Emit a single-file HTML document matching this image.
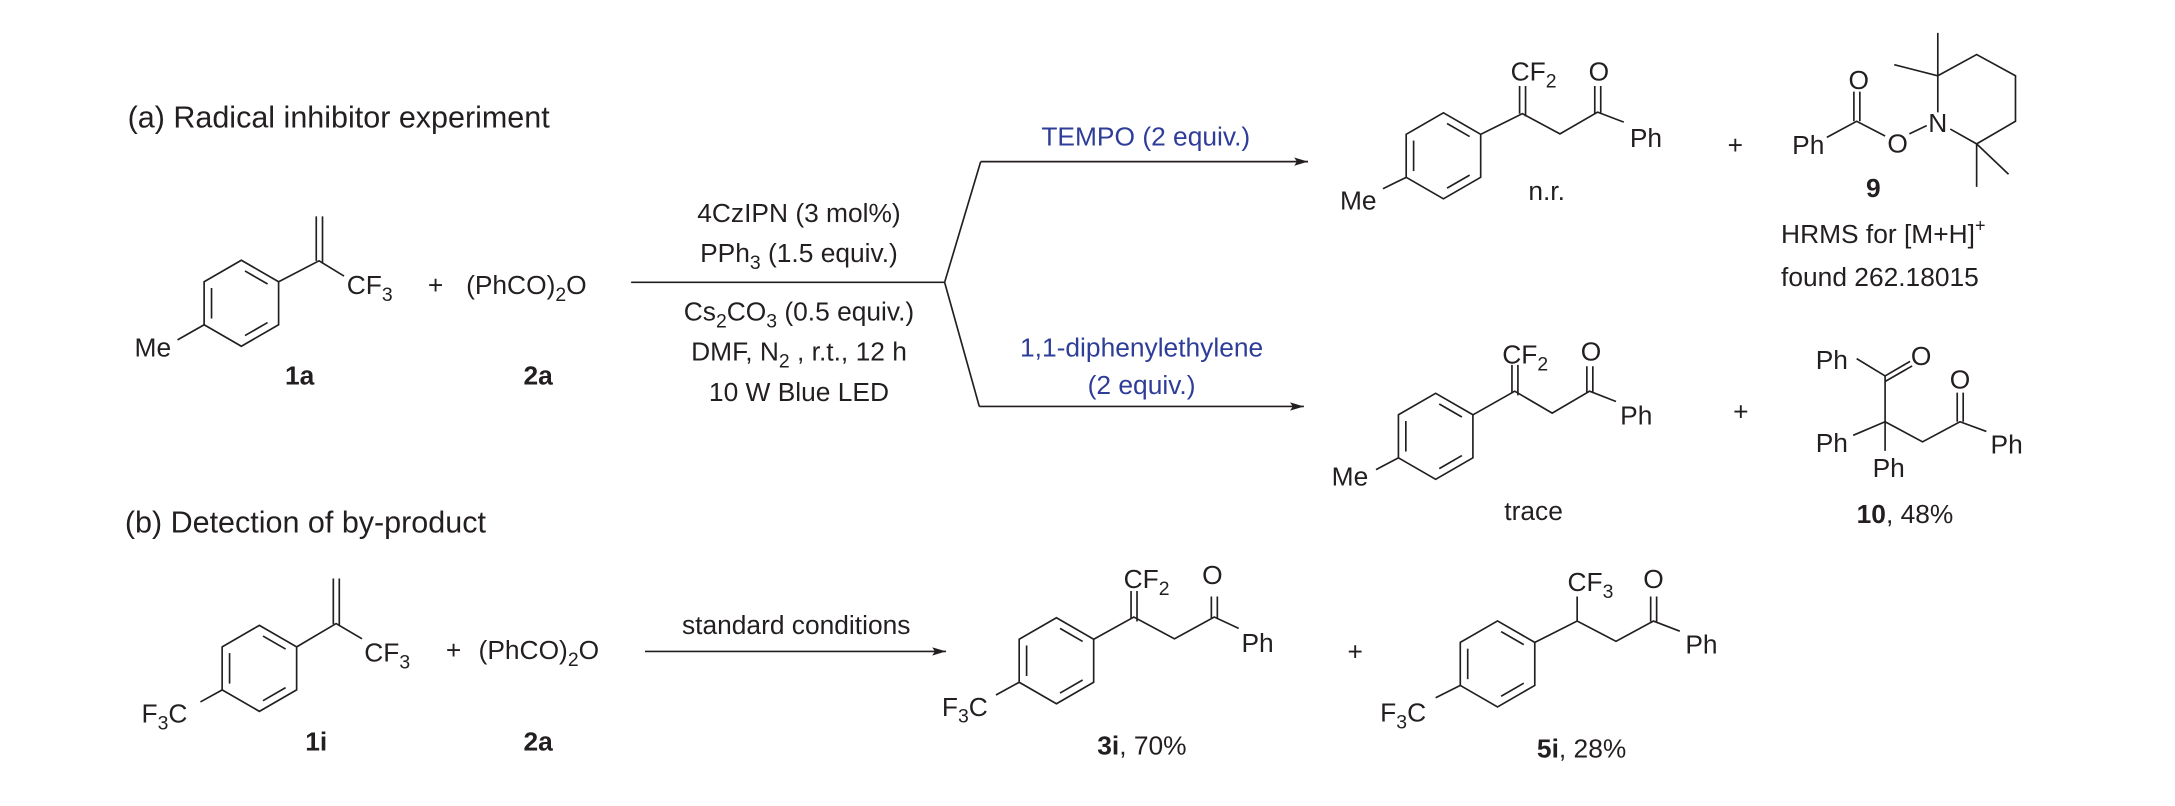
<!DOCTYPE html>
<html><head><meta charset="utf-8"><style>
html,body{margin:0;padding:0;background:#fff;}
svg{display:block;}
text{font-family:"Liberation Sans",Arial,sans-serif;font-size:19px;fill:#231f20;}
.b{font-weight:bold;}
.bl{fill:#2e3d98;}
.h{font-size:22px;}
</style></head><body>
<svg width="2175" height="806" viewBox="0 0 1568 581" xmlns="http://www.w3.org/2000/svg">
<defs>
<g id="ring" fill="none" stroke="#231f20" stroke-width="1.2">
<polygon points="0,-31 26.85,-15.5 26.85,15.5 0,31 -26.85,15.5 -26.85,-15.5"/>
<line x1="-21.5" y1="-11" x2="-21.5" y2="11"/>
<line x1="2.6" y1="-23.3" x2="18.9" y2="-13.9"/>
<line x1="18.9" y1="13.9" x2="2.6" y2="23.3"/>
</g>
<marker id="ah" viewBox="0 0 10 6" refX="10" refY="3" markerWidth="10" markerHeight="6" markerUnits="userSpaceOnUse" orient="auto">
<path d="M0,0 L10,3 L0,6 L2,3 Z" fill="#231f20"/>
</marker>
</defs>

<g stroke="#231f20" stroke-width="1.2" fill="none">
<use href="#ring" x="174" y="218.6"/>
<path d="M200.9,203.1 L230,188 L248,199"/>
<path d="M228,188 V156 M232.5,190 V156"/>
<path d="M147.2,234.1 L128,245"/>
<path d="M455,203.5 H681 M707,116.5 L681,203.5 L706,293"/>
<path d="M707,116.5 H943" marker-end="url(#ah)"/>
<path d="M706,293 H940" marker-end="url(#ah)"/>

<use href="#ring" x="1040.6" y="112.3"/>
<path d="M1067.5,96.8 L1097.5,81.9 L1124.6,96.5 L1151.7,80.8 L1170.6,88"/>
<path d="M1095.5,82 V62 M1099.8,84 V62"/>
<path d="M1149.7,82 V62 M1154,82 V62"/>
<path d="M1013.8,127.8 L997,136"/>
<path d="M1317,99 L1338.5,87.4 L1359,98"/>
<path d="M1336.5,87.4 V66 M1340.8,87.4 V66"/>
<path d="M1376.5,96.5 L1389,90.5"/>
<path d="M1397,81 V54.6 L1425,39.3 L1453,54.6 V87.4 L1425,103.7 L1406,93"/>
<path d="M1397,54.6 V23.7 M1397,54.6 L1365.6,46.6 M1425,103.7 V134.7 M1425,103.7 L1448,125.6"/>

<use href="#ring" x="1035" y="314.5"/>
<path d="M1061.9,299 L1092,282 L1119,297.8 L1146,282 L1165,289.4"/>
<path d="M1090,283 V263 M1094.3,285 V263"/>
<path d="M1144,283 V264 M1148.3,283 V264"/>
<path d="M1008.2,330 L992,338.5"/>
<path d="M1338.5,258.5 L1359,271 L1377,260.5 M1359,275 L1378.5,263.8"/>
<path d="M1359,271 V304 M1336,313.8 L1359,304 L1359,325 M1359,304 L1386,318.5 L1413,304 L1432,311"/>
<path d="M1411,304 V283 M1415.3,304 V283"/>

<use href="#ring" x="187" y="481.8"/>
<path d="M213.9,466.3 L242.3,449.5 L261,460.5"/>
<path d="M240.3,450 V417 M244.6,451 V417"/>
<path d="M160.2,497.3 L144.5,506"/>
<path d="M465,469.6 H682" marker-end="url(#ah)"/>

<use href="#ring" x="761.6" y="476.3"/>
<path d="M788.5,460.8 L817.4,444.8 L846.7,460.5 L875.4,444.8 L893,453"/>
<path d="M815.4,446 V426 M819.7,448 V426"/>
<path d="M873.3,446 V430 M877.6,446 V430"/>
<path d="M734.8,491.8 L718,501"/>

<use href="#ring" x="1079.6" y="478.6"/>
<path d="M1106.5,463.1 L1137,447.7 L1165,462.3 L1192,447.7 L1211,455"/>
<path d="M1137,447.7 V430"/>
<path d="M1190,448 V430 M1194.3,448 V430"/>
<path d="M1052.8,494.1 L1035,503"/>
</g>

<text x="92" y="92" class="h">(a) Radical inhibitor experiment</text>
<text x="250" y="212">CF<tspan font-size="14" dy="5">3</tspan></text>
<text x="97" y="257">Me</text>
<text x="216" y="277" class="b" text-anchor="middle">1a</text>
<text x="314" y="212" text-anchor="middle">+</text>
<text x="336" y="212">(PhCO)<tspan font-size="14" dy="5">2</tspan><tspan dy="-5">O</tspan></text>
<text x="388" y="277" class="b" text-anchor="middle">2a</text>

<text x="576" y="160" text-anchor="middle">4CzIPN (3 mol%)</text>
<text x="576" y="189" text-anchor="middle">PPh<tspan font-size="14" dy="5">3</tspan><tspan dy="-5"> (1.5 equiv.)</tspan></text>
<text x="576" y="231" text-anchor="middle">Cs<tspan font-size="14" dy="5">2</tspan><tspan dy="-5">CO</tspan><tspan font-size="14" dy="5">3</tspan><tspan dy="-5"> (0.5 equiv.)</tspan></text>
<text x="576" y="260" text-anchor="middle">DMF, N<tspan font-size="14" dy="5">2</tspan><tspan dy="-5"> , r.t., 12 h</tspan></text>
<text x="576" y="289" text-anchor="middle">10 W Blue LED</text>

<text x="826" y="105" class="bl" text-anchor="middle">TEMPO (2 equiv.)</text>
<text x="823" y="257" class="bl" text-anchor="middle">1,1-diphenylethylene</text>
<text x="823" y="284" class="bl" text-anchor="middle">(2 equiv.)</text>

<text x="1089" y="58">CF<tspan font-size="14" dy="5">2</tspan></text>
<text x="1152.7" y="58" text-anchor="middle">O</text>
<text x="1175" y="106">Ph</text>
<text x="966" y="151">Me</text>
<text x="1115" y="144" text-anchor="middle">n.r.</text>
<text x="1251" y="111" text-anchor="middle">+</text>
<text x="1292" y="111">Ph</text>
<text x="1340" y="64" text-anchor="middle">O</text>
<text x="1368" y="110" text-anchor="middle">O</text>
<text x="1397" y="95" text-anchor="middle">N</text>
<text x="1350.5" y="142" class="b" text-anchor="middle">9</text>
<text x="1284" y="175">HRMS for [M+H]<tspan font-size="13" dy="-8">+</tspan></text>
<text x="1284" y="206">found 262.18015</text>

<text x="1083" y="262">CF<tspan font-size="14" dy="5">2</tspan></text>
<text x="1147" y="260" text-anchor="middle">O</text>
<text x="1168" y="306">Ph</text>
<text x="960" y="350">Me</text>
<text x="1105.6" y="375" text-anchor="middle">trace</text>
<text x="1255" y="303" text-anchor="middle">+</text>
<text x="1309" y="266">Ph</text>
<text x="1385" y="263" text-anchor="middle">O</text>
<text x="1413" y="280" text-anchor="middle">O</text>
<text x="1309" y="326">Ph</text>
<text x="1350" y="344">Ph</text>
<text x="1435" y="327">Ph</text>
<text x="1338.5" y="377"><tspan class="b">10</tspan>, 48%</text>

<text x="90" y="384" class="h">(b) Detection of by-product</text>
<text x="262.6" y="477">CF<tspan font-size="14" dy="5">3</tspan></text>
<text x="102" y="521">F<tspan font-size="14" dy="5">3</tspan><tspan dy="-5">C</tspan></text>
<text x="228" y="541" class="b" text-anchor="middle">1i</text>
<text x="327" y="475" text-anchor="middle">+</text>
<text x="345" y="475">(PhCO)<tspan font-size="14" dy="5">2</tspan><tspan dy="-5">O</tspan></text>
<text x="388" y="541" class="b" text-anchor="middle">2a</text>
<text x="574" y="457" text-anchor="middle">standard conditions</text>

<text x="810" y="424">CF<tspan font-size="14" dy="5">2</tspan></text>
<text x="874" y="421" text-anchor="middle">O</text>
<text x="895" y="470">Ph</text>
<text x="679" y="516">F<tspan font-size="14" dy="5">3</tspan><tspan dy="-5">C</tspan></text>
<text x="791" y="544"><tspan class="b">3i</tspan>, 70%</text>
<text x="977" y="476" text-anchor="middle">+</text>
<text x="1130" y="426">CF<tspan font-size="14" dy="5">3</tspan></text>
<text x="1192" y="424" text-anchor="middle">O</text>
<text x="1215" y="471">Ph</text>
<text x="995" y="520">F<tspan font-size="14" dy="5">3</tspan><tspan dy="-5">C</tspan></text>
<text x="1108" y="546"><tspan class="b">5i</tspan>, 28%</text>
</svg>
</body></html>
